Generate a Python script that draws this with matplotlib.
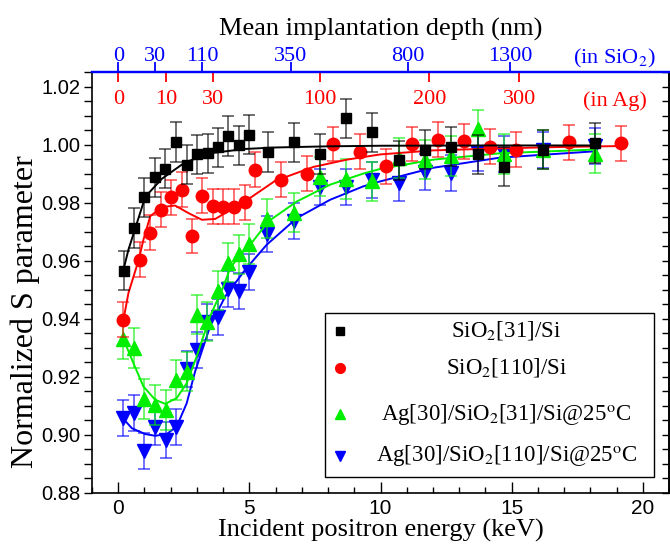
import numpy as np
import matplotlib
matplotlib.use("Agg")
import matplotlib.pyplot as plt
from matplotlib.ticker import MultipleLocator
from matplotlib.patches import Rectangle

plt.rcParams['mathtext.fontset'] = 'stix'
SERIF = 'Liberation Serif'
SANS = 'Liberation Sans'

# ---- data ----
# SiO2[31]/Si (black squares)
e_black = [0.23, 0.62, 1.0, 1.40, 1.80, 2.21, 2.62, 3.02, 3.42, 3.81, 4.20, 4.60, 5.0,
           5.70, 6.69, 7.70, 8.69, 9.69, 10.69, 11.68, 12.70, 13.71, 14.70, 16.18, 18.17]
s_black = [0.9566, 0.9713, 0.9818, 0.9887, 0.9917, 1.0009, 0.9931, 0.9966, 0.9970, 0.9990,
           1.0030, 0.9997, 1.0034, 0.9975, 1.0008, 0.9968, 1.0090, 1.0042, 0.9946, 0.9983,
           0.9993, 0.9966, 0.9924, 0.9983, 1.0006]
err_black = 0.0068

# SiO2[110]/Si (red circles)
e_red = [0.2, 0.84, 1.23, 1.63, 2.02, 2.43, 2.82, 3.21, 3.61, 4.01, 4.42, 4.83, 5.22,
         6.21, 7.2, 8.2, 9.2, 10.21, 11.2, 12.2, 13.2, 14.19, 15.18, 17.19, 19.18]
s_red = [0.9397, 0.9603, 0.9697, 0.9775, 0.9818, 0.9844, 0.9685, 0.9824, 0.9787, 0.9786,
         0.9786, 0.9801, 0.9914, 0.9879, 0.9899, 1.0002, 0.9976, 0.9925, 1.0002, 1.0017,
         1.0012, 0.9992, 0.9983, 1.0008, 1.0004]
err_red = 0.0060

# Ag[30]/SiO2[31]/Si@25C (green up-triangles)
e_green = [0.2, 0.61, 1.0, 1.41, 1.81, 2.21, 2.61, 2.99, 3.40, 3.80, 4.20, 4.61, 5.0,
           5.66, 6.69, 7.70, 8.69, 9.69, 10.69, 11.68, 12.70, 13.71, 14.70, 16.18, 18.17]
s_green = [0.9330, 0.9299, 0.9124, 0.9103, 0.9086, 0.9190, 0.9218, 0.9414, 0.9390, 0.9497,
           0.9593, 0.9622, 0.9657, 0.9745, 0.9766, 0.9890, 0.9881, 0.9873, 0.9954, 0.9948,
           0.9961, 1.0052, 0.9968, 0.9983, 0.9969]
err_green = 0.0068

# Ag[30]/SiO2[110]/Si@25C (blue down-triangles)
e_blue = e_green
s_blue = [0.9057, 0.9075, 0.8945, 0.9029, 0.8983, 0.9029, 0.9228, 0.9293, 0.9388, 0.9407,
          0.9502, 0.9496, 0.9561, 0.9693, 0.9738, 0.9854, 0.9854, 0.9878, 0.9867, 0.9905,
          0.9902, 0.9970, 0.9966, 0.9983, 0.9995]
err_blue = 0.0062

# fitted curves
fit_black_e = [0.23, 0.39, 1.03, 1.66, 2.55, 3.57, 4.84, 5.98, 8.0, 10.0, 14.0, 18.2]
fit_black_s = [0.9580, 0.9638, 0.9820, 0.9882, 0.9939, 0.9971, 0.9985, 0.9990, 0.9994,
               0.9996, 0.9997, 0.9997]
fit_red_e = [0.2, 0.39, 0.78, 0.96, 1.22, 1.66, 2.17, 2.68, 3.19, 3.70, 4.30, 4.96, 5.98,
             7.44, 8.71, 9.98, 12.0, 14.55, 17.0, 19.2]
fit_red_s = [0.9397, 0.9489, 0.9603, 0.9672, 0.9753, 0.9785, 0.9790, 0.9764, 0.9741, 0.9744,
             0.9776, 0.9812, 0.9875, 0.9923, 0.9948, 0.9966, 0.9980, 0.9987, 0.9992, 0.9995]
fit_green_e = [0.2, 0.58, 0.96, 1.41, 1.79, 2.23, 2.61, 2.99, 3.5, 4.01, 4.27, 4.65, 5.03,
               5.73, 6.81, 8.08, 9.34, 9.98, 12.0, 14.55, 18.2]
fit_green_s = [0.9330, 0.9247, 0.9167, 0.9121, 0.9107, 0.9127, 0.9178, 0.9270, 0.9408,
               0.9511, 0.9575, 0.9620, 0.9655, 0.9736, 0.9804, 0.9862, 0.9900, 0.9916,
               0.9948, 0.9970, 0.9983]
fit_blue_e = [0.2, 0.52, 1.03, 1.41, 1.85, 2.23, 2.61, 2.93, 3.5, 4.08, 4.84, 5.66, 6.81,
              8.08, 9.34, 9.98, 12.0, 14.55, 18.2]
fit_blue_s = [0.9055, 0.9023, 0.9003, 0.8997, 0.9003, 0.9029, 0.9109, 0.9218, 0.9373,
              0.9477, 0.9569, 0.9655, 0.9747, 0.9810, 0.9856, 0.9873, 0.9920, 0.9955, 0.9977]

# top axis depth labels
depth_sio2 = [0, 30, 110, 350, 800, 1300]
depth_ag = [0, 10, 30, 100, 200, 300]
k_sio2 = 17.15   # z = k * E^1.6 (nm, keV)
k_ag = 3.82

labels = ['SiO$_2$[31]/Si', 'SiO$_2$[110]/Si',
          'Ag[30]/SiO$_2$[31]/Si@25$^{\\rm o}$C', 'Ag[30]/SiO$_2$[110]/Si@25$^{\\rm o}$C']


def depth_to_e(z, k):
    return (np.asarray(z, dtype=float) / k) ** (1 / 1.6)


fig = plt.figure(figsize=(6.7, 5.49), dpi=100)
ax = fig.add_axes([92 / 670, 1 - 493 / 549, 577 / 670, 421 / 549])

series = [
    (e_blue, s_blue, err_blue, fit_blue_e, fit_blue_s, '#0000ff', 'v', 10),
    (e_green, s_green, err_green, fit_green_e, fit_green_s, '#00ee00', '^', 10),
    (e_red, s_red, err_red, fit_red_e, fit_red_s, '#ff0000', 'o', 9),
    (e_black, s_black, err_black, fit_black_e, fit_black_s, '#000000', 's', 7.5),
]
for e, s, err, fe, fs, col, mk, ms in series:
    ax.plot(fe, fs, '-', color=col, lw=1.4)
    ax.errorbar(e, s, yerr=err, fmt='none', ecolor=col, alpha=0.6, elinewidth=1.3,
                capsize=4.5, capthick=1.3)
    ax.plot(e, s, linestyle='none', marker=mk, ms=ms, color=col, mec=col)

ax.set_xlim(-1, 21)
ax.set_ylim(0.88, 1.025)
ax.xaxis.set_major_locator(MultipleLocator(5))
ax.xaxis.set_minor_locator(MultipleLocator(1))
ax.yaxis.set_major_locator(MultipleLocator(0.02))
ax.yaxis.set_minor_locator(MultipleLocator(0.005))
ax.yaxis.set_major_formatter(plt.FormatStrFormatter('%.2f'))

ax.tick_params(axis='x', which='major', direction='in', length=8, width=1, top=False,
               labelsize=15, pad=4)
ax.tick_params(axis='x', which='minor', direction='in', length=4.5, width=1, top=False)
ax.tick_params(axis='y', which='both', direction='out', length=6, width=1, labelsize=14.5,
               right=False, pad=2.5)
for t in ax.get_xticklabels() + ax.get_yticklabels():
    t.set_fontfamily(SANS)

# right side ticks pointing inward
ax_r = ax.secondary_yaxis('right')
ax_r.yaxis.set_major_locator(MultipleLocator(0.005))
ax_r.tick_params(direction='in', length=5, width=1, labelright=False)
ax_r.spines['right'].set_linewidth(1.2)

for sp in ['left', 'bottom', 'right']:
    ax.spines[sp].set_linewidth(1.2)
ax.spines['top'].set_color('#0000ff')
ax.spines['top'].set_linewidth(1.6)

ax.set_xlabel('Incident positron energy (keV)', fontsize=19, family=SERIF, labelpad=1)
ax.set_ylabel('Normalized S parameter', fontsize=23, family=SERIF)
ax.yaxis.set_label_coords(-0.09, 0.43)

# top axis: SiO2 depth (blue, outside)
ax_b = ax.secondary_xaxis('top')
ax_b.set_xticks(depth_to_e(depth_sio2, k_sio2), [str(d) for d in depth_sio2])
ax_b.tick_params(direction='out', length=7, width=1.3, colors='#0000ff', labelsize=16,
                 pad=-2.5)
ax_b.spines['top'].set_color('#0000ff')
ax_b.spines['top'].set_linewidth(1.6)
for t in ax_b.get_xticklabels():
    t.set_fontfamily(SERIF)
ax_b.set_xlabel('Mean implantation depth (nm)', fontsize=19, family=SERIF, labelpad=8)

# top axis: Ag depth (red, inside)
ax_a = ax.secondary_xaxis('top')
ax_a.set_xticks(depth_to_e(depth_ag, k_ag), [str(d) for d in depth_ag])
ax_a.tick_params(direction='in', length=7, width=1.3, colors='#ff0000', labelsize=16,
                 pad=-27)
ax_a.spines['top'].set_visible(False)
for t in ax_a.get_xticklabels():
    t.set_fontfamily(SERIF)

ax.text(0.906, 1.005, '(in SiO$_2$)', transform=ax.transAxes, color='#0000ff',
        fontsize=16, family=SERIF, ha='center', va='bottom')
ax.text(0.906, 0.93, '(in Ag)', transform=ax.transAxes, color='#ff0000',
        fontsize=16, family=SERIF, ha='center', va='center')

# legend box drawn by hand so the text can be centred
ax.add_patch(Rectangle((0.403, 0.038), 0.571, 0.39, transform=ax.transAxes,
                       fill=True, fc='white', ec='black', lw=1.0, zorder=5))
leg_y = [0.385, 0.297, 0.187, 0.088]
leg_style = [('#000000', 's', 6), ('#ff0000', 'o', 7), ('#00ee00', '^', 7.5),
             ('#0000ff', 'v', 7.5)]
for yy, (col, mk, ms), lab in zip(leg_y, leg_style, labels):
    ax.plot([0.43], [yy], transform=ax.transAxes, marker=mk, ms=ms, color=col,
            linestyle='none', zorder=6, clip_on=False)
    ax.text(0.718, yy, lab, transform=ax.transAxes, fontsize=16.5, family=SERIF,
            ha='center', va='center', zorder=6)

fig.savefig('out.png', dpi=100)
